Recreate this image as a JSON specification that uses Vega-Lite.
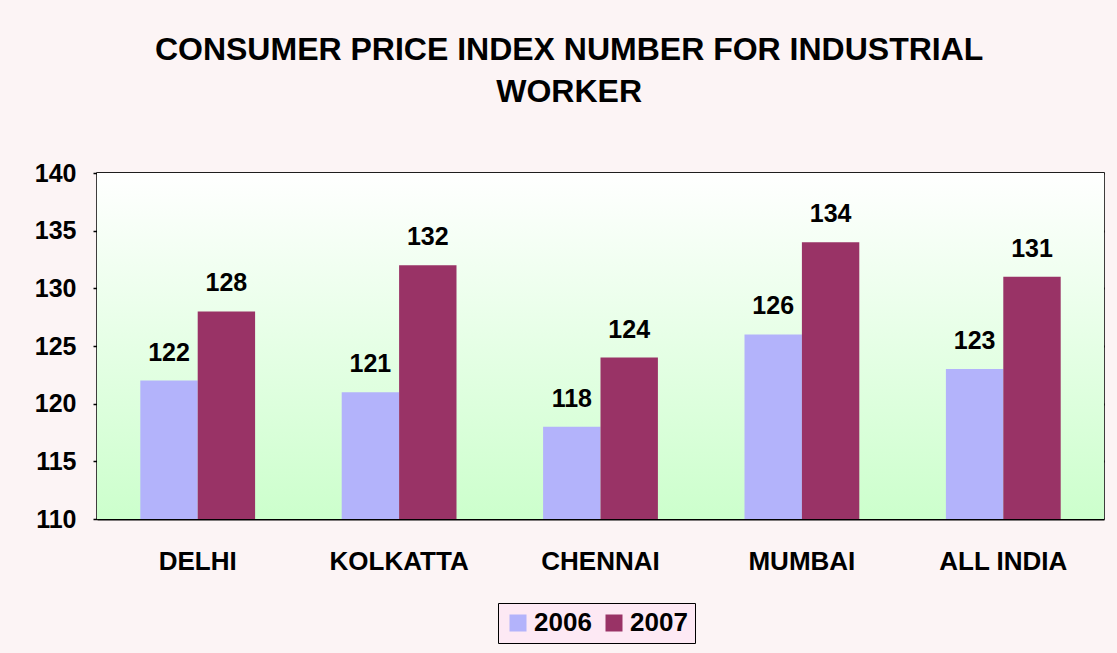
{
  "$schema": "https://vega.github.io/schema/vega-lite/v6.json",
  "autosize": {"type": "none"},
  "width": 1007,
  "height": 346,
  "padding": {"left": 97, "top": 173, "right": 13, "bottom": 134},
  "background": "#fcf4f5",
  "title": {
    "text": ["CONSUMER PRICE INDEX NUMBER FOR INDUSTRIAL", "WORKER"],
    "font": "Liberation Sans",
    "fontSize": 32,
    "fontWeight": "bold",
    "color": "black",
    "lineHeight": 42,
    "anchor": "middle",
    "frame": "bounds",
    "offset": 52
  },
  "data": {
    "values": [
      {"city": "DELHI", "year": "2006", "value": 122},
      {"city": "DELHI", "year": "2007", "value": 128},
      {"city": "KOLKATTA", "year": "2006", "value": 121},
      {"city": "KOLKATTA", "year": "2007", "value": 132},
      {"city": "CHENNAI", "year": "2006", "value": 118},
      {"city": "CHENNAI", "year": "2007", "value": 124},
      {"city": "MUMBAI", "year": "2006", "value": 126},
      {"city": "MUMBAI", "year": "2007", "value": 134},
      {"city": "ALL INDIA", "year": "2006", "value": 123},
      {"city": "ALL INDIA", "year": "2007", "value": 131}
    ]
  },
  "layer": [
    {
      "data": {"values": [{"lo": 110, "hi": 140}]},
      "mark": {
        "type": "rect",
        "color": {
          "gradient": "linear", "x1": 0, "y1": 0, "x2": 0, "y2": 1,
          "stops": [{"offset": 0, "color": "#ffffff"}, {"offset": 1, "color": "#ccffcc"}]
        }
      },
      "encoding": {
        "y": {"field": "hi", "type": "quantitative", "scale": {"domain": [110, 140], "zero": false, "nice": false}},
        "y2": {"field": "lo"}
      }
    },
    {
      "mark": {"type": "bar", "clip": true},
      "encoding": {
        "x": {"field": "city", "type": "nominal", "sort": null, "scale": {"paddingInner": 0.43, "paddingOuter": 0.215}},
        "xOffset": {"field": "year", "type": "nominal", "scale": {"paddingInner": 0, "paddingOuter": 0}},
        "y": {"field": "value", "type": "quantitative", "scale": {"domain": [110, 140], "zero": false, "nice": false}},
        "y2": {"datum": 110},
        "color": {
          "field": "year", "type": "nominal",
          "scale": {"domain": ["2006", "2007"], "range": ["#b3b3fb", "#993366"]},
          "legend": {
            "title": null, "orient": "none", "direction": "horizontal",
            "legendX": 401, "legendY": 430,
            "symbolType": "square", "symbolSize": 289, "symbolStrokeWidth": 0,
            "labelFont": "Liberation Sans", "labelFontSize": 26, "labelFontWeight": "bold",
            "labelColor": "black", "columnPadding": 9, "labelOffset": 3,
            "padding": 7, "strokeColor": "black", "fillColor": "#fde9f4"
          }
        }
      }
    },
    {
      "mark": {"type": "text", "baseline": "alphabetic", "dy": -20, "font": "Liberation Sans", "fontSize": 25, "fontWeight": "bold", "color": "black"},
      "encoding": {
        "x": {"field": "city", "type": "nominal", "sort": null},
        "xOffset": {"field": "year", "type": "nominal"},
        "y": {"field": "value", "type": "quantitative"},
        "text": {"field": "value", "type": "quantitative"}
      }
    }
  ],
  "config": {
    "view": {"stroke": "black", "strokeWidth": 1.5},
    "axisX": {
      "title": null, "labelAngle": 0, "ticks": false, "domain": false,
      "labelFont": "Liberation Sans", "labelFontSize": 26, "labelFontWeight": "bold",
      "labelColor": "black", "labelPadding": 29
    },
    "axisY": {
      "title": null, "values": [110, 115, 120, 125, 130, 135, 140],
      "grid": true, "gridColor": "black", "gridWidth": 2, "gridOpacity": 1,
      "domain": false, "tickColor": "black", "tickSize": 4, "tickWidth": 1.5,
      "labelFont": "Liberation Sans", "labelFontSize": 25, "labelFontWeight": "bold",
      "labelColor": "black", "labelPadding": 17
    },
    "axis": {"title": null}
  }
}
